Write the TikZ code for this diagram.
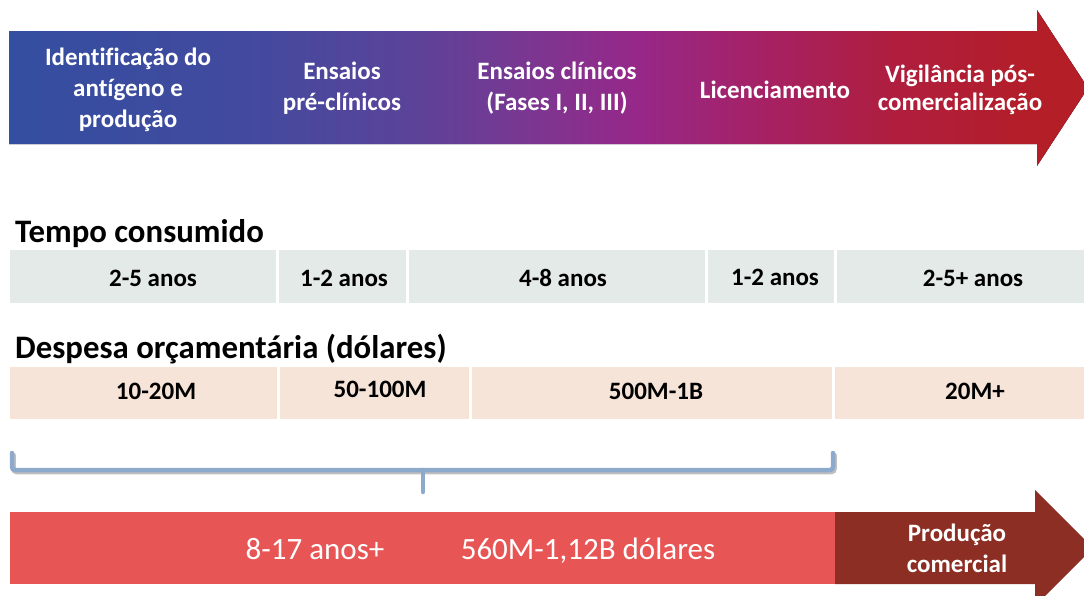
\documentclass[tikz,border=0pt]{standalone}
\usepackage{fontspec}
\setmainfont{Carlito}[Ligatures=CommonOff]
\usetikzlibrary{positioning}
\definecolor{phaseA}{RGB}{52,78,160}
\definecolor{phaseB}{RGB}{66,74,159}
\definecolor{phaseC}{RGB}{88,68,154}
\definecolor{phaseD}{RGB}{122,55,145}
\definecolor{phaseE}{RGB}{150,40,137}
\definecolor{phaseF}{RGB}{166,33,100}
\definecolor{phaseG}{RGB}{175,30,62}
\definecolor{phaseH}{RGB}{180,30,38}
\definecolor{timegrey}{RGB}{228,234,231}
\definecolor{costpeach}{RGB}{246,228,216}
\definecolor{bracketblue}{RGB}{141,169,204}
\definecolor{totalred}{RGB}{232,85,85}
\definecolor{proddark}{RGB}{140,46,35}
\pgfdeclarehorizontalshading{phasefade}{100bp}{color(0bp)=(phaseA); color(25bp)=(phaseA);
  color(36bp)=(phaseB); color(43bp)=(phaseC); color(49bp)=(phaseD); color(54bp)=(phaseE);
  color(60bp)=(phaseF); color(66bp)=(phaseG); color(73bp)=(phaseH); color(100bp)=(phaseH)}

\begin{document}
\begin{tikzpicture}[x=1pt,y=-1pt,
    phase/.style={text=white,font=\bfseries\fontsize{25}{31}\selectfont,align=center,anchor=base,inner sep=0pt},
    cell/.style={font=\bfseries\fontsize{25}{30}\selectfont,anchor=base,inner sep=0pt},
    rowtitle/.style={font=\bfseries\fontsize{32.8}{39}\selectfont,anchor=base west,inner sep=0pt},
    total/.style={text=white,font=\fontsize{31}{37}\selectfont,anchor=base,inner sep=0pt},
    bracketline/.style={draw=bracketblue,line width=4.5pt,line cap=round,rounded corners=3pt}]
  \useasboundingbox (0,0) rectangle (1084,595);
  \clip (0,0) rectangle (1084,595);

  % fases (base = ultima linha)
  \fill[shading=phasefade] (9,31) -- (1037,31) -- (1037,10) -- (1088,88) -- (1037,166) -- (1037,144) -- (9,144) -- cycle;
  \node[phase] (p1) at (128,127) {Identificação do\\antígeno e\\produção};
  \node[phase] (p2) at (342,110) {Ensaios\\pré-clínicos};
  \node[phase] (p3) at (557,110) {Ensaios clínicos\\(Fases I, II, III)};
  \node[phase] (p4) at (775,98) {Licenciamento};
  \node[phase] (p5) at (960,110) {Vigilância pós-\\[-3pt]comercialização};

  % tempo
  \node[rowtitle] (tempo) at (15,242) {Tempo consumido};
  \foreach \a/\b in {10/276,279/406,409/705,708/834,837/1084}
    \fill[timegrey] (\a,250) rectangle (\b,303);
  \node[cell] (t1) at (153,286) {2-5 anos};
  \node[cell] (t2) at (344,286) {1-2 anos};
  \node[cell] (t3) at (563,286) {4-8 anos};
  \node[cell] (t4) at (775,285) {1-2 anos};
  \node[cell] (t5) at (973,286) {2-5+ anos};

  % despesa
  \node[rowtitle] (despesa) at (15,358) {Despesa orçamentária (dólares)};
  \foreach \a/\b in {10/277,280/469,472/832,835/1084}
    \fill[costpeach] (\a,367) rectangle (\b,419);
  \node[cell] (c1) at (156,399) {10-20M};
  \node[cell] (c2) at (380,397) {50-100M};
  \node[cell] (c3) at (656,399) {500M-1B};
  \node[cell] (c4) at (975,399) {20M+};

  % chave
  \draw[bracketline,draw=black!25,xshift=1.5pt,yshift=-2pt] (12,453) -- (12,470) -- (833,470) -- (833,453);
  \draw[bracketline] (12,453) -- (12,470) -- (833,470) -- (833,453);
  \draw[bracketline,rounded corners=0pt] (423,470) -- (423,492);

  % total
  \fill[totalred] (10,512) rectangle (835,584);
  \fill[proddark] (835,512) -- (1035,512) -- (1035,490) -- (1093,548) -- (1035,606) -- (1035,584) -- (835,584) -- cycle;
  \node[total] (anos) at (315,559) {8-17 anos+};
  \node[total] (dolares) at (588,559) {560M-1,12B dólares};
  \node[phase] (producao) at (957,572) {Produção\\comercial};
\end{tikzpicture}
\end{document}
